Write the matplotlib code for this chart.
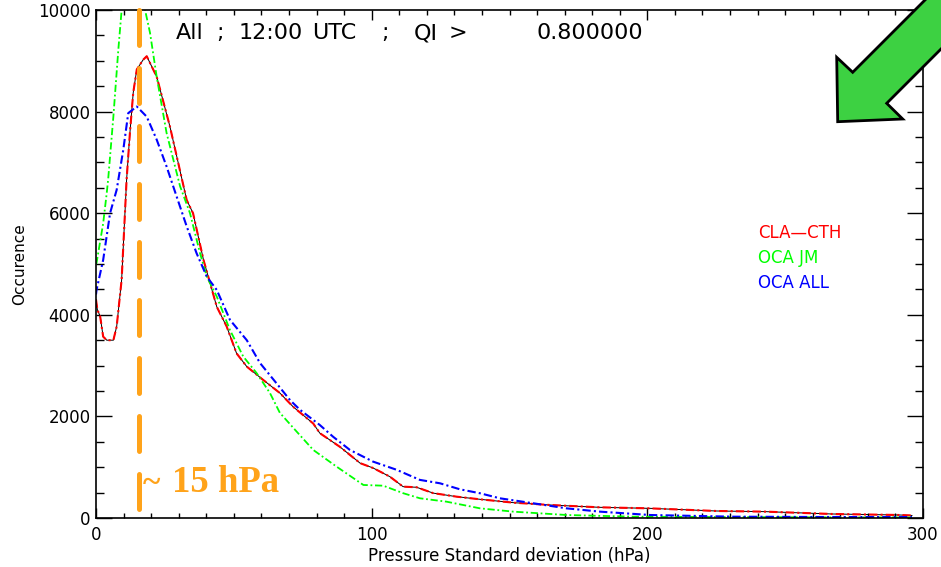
import matplotlib
matplotlib.use("Agg")
import matplotlib.pyplot as plt
from matplotlib.patches import Polygon
from matplotlib.ticker import MultipleLocator

# ---- data ----
red_x = [0, 0.5, 1.5, 2.6, 3.9, 6.3, 7.5, 9.3, 10.5, 11.1, 12.3, 13.5, 14.8, 17.1, 18.4,
         22, 26.8, 32.9, 35.2, 39, 43.8, 47.4, 51, 54.7, 60.6, 66.7, 71.5, 78.8, 81.2,
         88.5, 95.8, 100.5, 106.6, 111.4, 116.3, 122.3, 130.8, 139.3, 151.4, 164.7,
         182.8, 201, 225, 243, 267, 291.6, 296]
red_y = [4300, 4100, 3970, 3570, 3500, 3500, 3770, 4690, 6000, 6660, 7580, 8370, 8830, 9020, 9090,
         8690, 7710, 6260, 6000, 5080, 4160, 3770, 3240, 2980, 2720, 2460, 2190, 1860, 1670,
         1400, 1080, 985, 814, 617, 605, 490, 420, 368, 302, 256,
         210, 190, 138, 125, 79, 59, 50]

green_x = [0, 0.2, 2.6, 3.9, 4.4, 6.3, 8.1, 9.3, 11, 13, 15.5, 17.8, 19.6, 22, 25.6, 30.5,
           34.1, 37.7, 40.2, 43.8, 48.6, 53.4, 58.3, 63.1, 66.7, 72.8, 78.8, 87.3, 97,
           104.2, 111.5, 117.5, 127.2, 139.3, 151.4, 170.7, 194.8, 220, 250, 275, 296]
green_y = [5000, 5020, 5800, 6400, 6660, 7900, 9220, 10000, 10700, 11000, 10800, 10000, 9550, 8690, 7580, 6530,
           6000, 5220, 4750, 4360, 3700, 3180, 2850, 2460, 2070, 1700, 1340, 1010, 650,
           636, 487, 388, 321, 190, 125, 59, 26, 20, 15, 12, 10]

blue_x = [0, 0.2, 2.6, 5.1, 7.5, 9.9, 11.7, 14.8, 18.4, 22, 25.6, 28, 32.9, 36.5, 40.2,
          43.8, 48.6, 54.7, 59.5, 65.5, 70.4, 74, 81.2, 86, 92.1, 100.5, 109, 117.5,
          124.8, 132, 139.3, 146.5, 158.6, 170.7, 182.8, 201, 231, 260, 296]
blue_y = [4400, 4490, 5080, 6000, 6460, 7250, 7970, 8100, 7900, 7450, 6920, 6530, 5740, 5210, 4750,
          4490, 3900, 3500, 3050, 2650, 2320, 2130, 1830, 1600, 1340, 1110, 950, 750,
          683, 565, 487, 388, 290, 190, 125, 59, 26, 20, 18]

legend_labels = ["CLA\u2014CTH", "OCA JM", "OCA ALL"]
legend_colors = ["#FF0000", "#00FF00", "#0000FF"]
title_parts = ["All", ";", "12:00", "UTC", ";", "QI", ">", "0.800000"]
x_ticks = [0, 100, 200, 300]
y_ticks = [0, 2000, 4000, 6000, 8000, 10000]
marker_x = 15.6
marker_label = "15 hPa"

W, H = 941, 567
fig = plt.figure(figsize=(W / 100, H / 100), dpi=100)
ax = fig.add_axes([96 / W, 1 - 518 / H, (923 - 96) / W, (518 - 10) / H])

ax.set_xlim(0, 300)
ax.set_ylim(0, 10000)

dd = (0, (4, 1.5, 1, 1.5))
ax.plot(red_x, red_y, color="black", lw=0.7)
ax.plot(red_x, red_y, color=legend_colors[0], lw=1.5, linestyle=dd)
ax.plot(green_x, green_y, color=legend_colors[1], lw=1.3, linestyle=dd)
ax.plot(blue_x, blue_y, color=legend_colors[2], lw=1.5, linestyle=dd)

# ticks
ax.set_xticks(x_ticks)
ax.set_yticks(y_ticks)
ax.xaxis.set_minor_locator(MultipleLocator(10))
ax.yaxis.set_minor_locator(MultipleLocator(500))
ax.tick_params(axis="x", which="major", direction="in", length=7.2, width=1, top=True, labelsize=12, pad=6)
ax.tick_params(axis="x", which="minor", direction="in", length=3.6, width=1, top=True)
ax.tick_params(axis="y", which="major", direction="in", length=11.5, width=1, right=True, labelsize=12, pad=4)
ax.tick_params(axis="y", which="minor", direction="in", length=5.8, width=1, right=True)
for s in ax.spines.values():
    s.set_linewidth(1.2)

ax.set_xlabel("Pressure Standard deviation (hPa)", fontsize=12, labelpad=2)
ax.set_ylabel("Occurence", fontsize=11, labelpad=8)

# title pieces, positioned by their centre in figure pixels
title_centers = [190, 220, 271, 334, 385, 426, 458, 590]
for txt, cx in zip(title_parts, title_centers):
    fig.text(cx / W, 1 - 33 / H, txt, fontsize=16, ha="center", va="center")

for i, (lab, col) in enumerate(zip(legend_labels, legend_colors)):
    ax.text((758 - 96) / 827, 1 - (233 + 25 * i - 10) / 508, lab, transform=ax.transAxes,
            color=col, fontsize=12, va="center", ha="left")

# orange marker line
ax.plot([marker_x, marker_x], [10000, 0], color="#FFA31A", lw=3.6,
        linestyle=(0, (7, 4.6)), dash_capstyle="round", clip_on=False, zorder=5)
fig.text(143 / W, 1 - 484 / H, "~", color="#FFA31A", fontsize=24, fontweight="bold",
         family="Liberation Serif", va="center", ha="left", zorder=6)
fig.text(172 / W, 1 - 492 / H, marker_label, color="#FFA31A", fontsize=26.5, fontweight="bold",
         family="Liberation Serif", va="baseline", ha="left", zorder=6)

# green arrow (figure pixel coordinates)
arrow_px = [(837.7, 121.7), (836.7, 57.3), (852.7, 72.3), (935, -10), (1000, -10),
            (886.7, 103.3), (902.7, 119)]
arrow = Polygon([(x / W, 1 - y / H) for x, y in arrow_px], closed=True,
                transform=fig.transFigure, facecolor="#3DD142", edgecolor="black",
                lw=2, joinstyle="miter", zorder=10)
fig.patches.append(arrow)

fig.savefig("out.png", dpi=100)
